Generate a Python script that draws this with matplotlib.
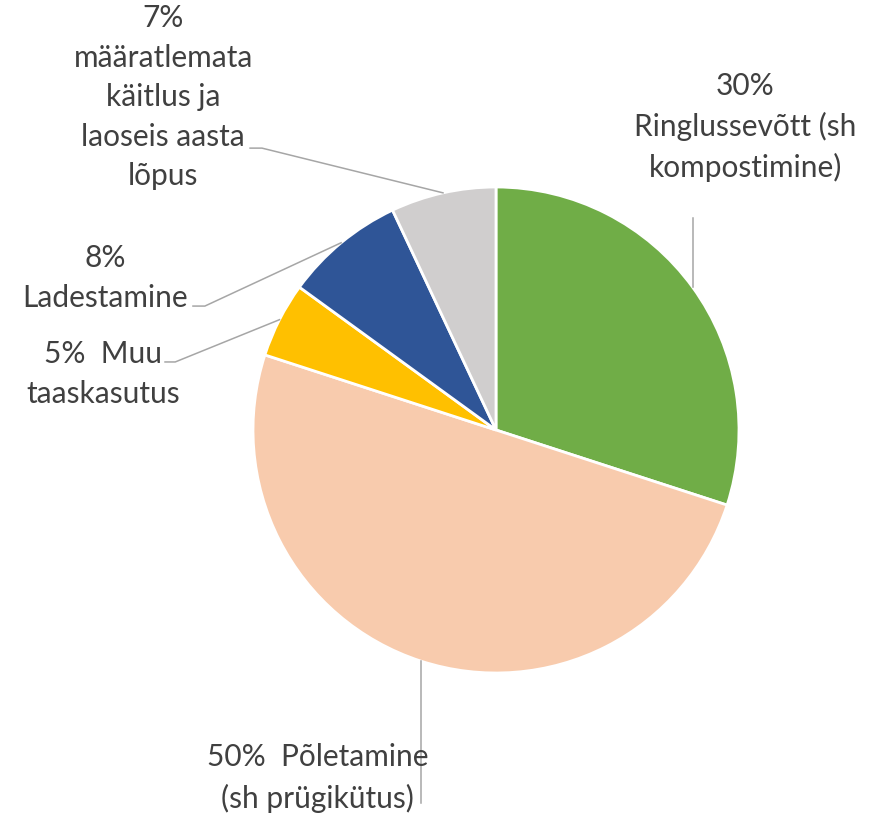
import matplotlib
matplotlib.use("Agg")
import matplotlib.pyplot as plt
import numpy as np

# slices clockwise from 12 o'clock
labels = [
    "30%\nRinglussevõtt (sh\nkompostimine)",
    "50%  Põletamine\n(sh prügikütus)",
    "5%  Muu\ntaaskasutus",
    "8%\nLadestamine",
    "7%\nmääratlemata\nkäitlus ja\nlaoseis aasta\nlõpus",
]
shares = [30, 50, 5, 8, 7]
colors = ["#70AD47", "#F8CBAD", "#FFC000", "#2F5597", "#D0CECE"]

plt.rcParams["font.family"] = ["Lato", "DejaVu Sans"]

W, H = 887, 815
fig = plt.figure(figsize=(W / 100, H / 100), dpi=100)
cx, cy, r = 496, 430, 243
ax = fig.add_axes([(cx - r) / W, (H - cy - r) / H, 2 * r / W, 2 * r / H])

wedges, _ = ax.pie(shares, colors=colors, startangle=90, counterclock=False,
                   radius=1, wedgeprops=dict(edgecolor="white", linewidth=2))
ax.set_xlim(-1, 1)
ax.set_ylim(-1, 1)
ax.set_aspect("equal")
ax.axis("off")

# label centre (data units) and kind of leader: 'v' = vertical, (x0, x1, y) = elbow
label_pos = [(1.025, 1.247), (-0.733, -1.432), (-1.617, 0.23), (-1.61, 0.625), (-1.37, 1.37)]
leaders = [("v", 0.872), ("v", -1.535), ("e", -1.362, -1.32, 0.28),
           ("e", -1.247, -1.198, 0.51), ("e", -1.012, -0.963, 1.16)]

line_col = "#A6A6A6"
for w, lab, pos, ld in zip(wedges, labels, label_pos, leaders):
    mid = np.deg2rad((w.theta1 + w.theta2) / 2)
    px, py = np.cos(mid), np.sin(mid)
    if ld[0] == "v":
        ax.plot([px, px], [py, ld[1]], color=line_col, lw=1.1, clip_on=False)
    else:
        ax.plot([ld[1], ld[2], px], [ld[3], ld[3], py], color=line_col, lw=1.1, clip_on=False)
    ax.text(pos[0], pos[1], lab, ha="center", va="center", multialignment="center",
            fontsize=21.5, color="#404040", linespacing=1.5, clip_on=False)

fig.savefig("out.png", dpi=100)
